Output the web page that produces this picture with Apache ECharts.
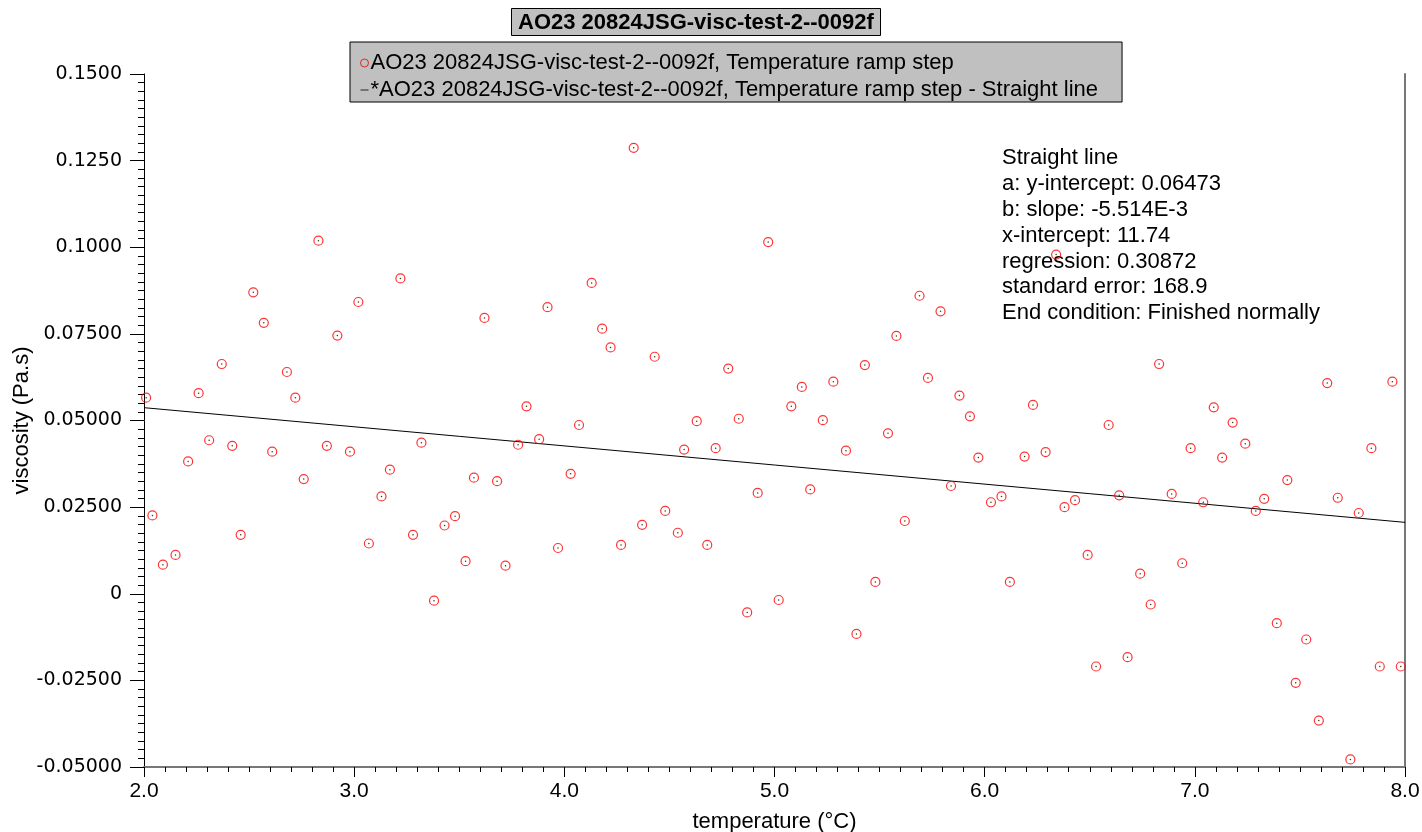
<!DOCTYPE html>
<html><head><meta charset="utf-8">
<script src="https://cdn.jsdelivr.net/npm/echarts@6/dist/echarts.min.js"></script>
<style>html,body{margin:0;padding:0;background:#fff}#c{width:1422px;height:832px}</style>
</head><body><div id="c"></div>
<script>
// temperature (°C)
const temperature = [
2.01,2.04,2.09,2.15,2.21,2.26,2.31,2.37,2.42,2.46,2.52,2.57,2.61,2.68,2.72,2.76,2.83,2.87,2.92,2.98,
3.02,3.07,3.13,3.17,3.22,3.28,3.32,3.38,3.43,3.48,3.53,3.57,3.62,3.68,3.72,3.78,3.82,3.88,3.92,3.97,
4.03,4.07,4.13,4.18,4.22,4.27,4.33,4.37,4.43,4.48,4.54,4.57,4.63,4.68,4.72,4.78,4.83,4.87,4.92,4.97,
5.02,5.08,5.13,5.17,5.23,5.28,5.34,5.39,5.43,5.48,5.54,5.58,5.62,5.69,5.73,5.79,5.84,5.88,5.93,5.97,
6.03,6.08,6.12,6.19,6.23,6.29,6.34,6.38,6.43,6.49,6.53,6.59,6.64,6.68,6.74,6.79,6.83,6.89,6.94,6.98,
7.04,7.09,7.13,7.18,7.24,7.29,7.33,7.39,7.44,7.48,7.53,7.59,7.63,7.68,7.74,7.78,7.84,7.88,7.94,7.98
];
// viscosity (Pa.s)
const viscosity = [
0.0566,0.0226,0.0084,0.0112,0.0382,0.0579,0.0443,0.0663,0.0427,0.0170,0.0870,0.0782,0.0410,0.0640,0.0566,0.0331,0.1019,0.0427,0.0745,0.0410,
0.0842,0.0145,0.0281,0.0358,0.0910,0.0170,0.0436,-0.0020,0.0197,0.0224,0.0094,0.0335,0.0796,0.0325,0.0081,0.0430,0.0541,0.0446,0.0827,0.0132,
0.0346,0.0487,0.0897,0.0765,0.0711,0.0141,0.1287,0.0199,0.0684,0.0239,0.0176,0.0416,0.0498,0.0141,0.0420,0.0650,0.0505,-0.0054,0.0291,0.1015,
-0.0018,0.0541,0.0597,0.0301,0.0501,0.0612,0.0413,-0.0116,0.0660,0.0034,0.0463,0.0744,0.0210,0.0860,0.0623,0.0815,0.0311,0.0572,0.0512,0.0393,
0.0264,0.0281,0.0034,0.0396,0.0545,0.0409,0.0979,0.0250,0.0270,0.0112,-0.0210,0.0487,0.0284,-0.0183,0.0058,-0.0031,0.0663,0.0288,0.0088,0.0420,
0.0264,0.0538,0.0393,0.0494,0.0433,0.0239,0.0274,-0.0085,0.0328,-0.0257,-0.0132,-0.0366,0.0608,0.0277,-0.0478,0.0233,0.0420,-0.0210,0.0612,-0.0210
];
// straight line fit end points
const fitX = [2.0, 8.0];
const fitY = [0.0537, 0.0206];
// y tick labels
const yTickValues = [-0.05,-0.025,0,0.025,0.05,0.075,0.1,0.125,0.15];
const yTickLabels = ['-0.05000','-0.02500','0','0.02500','0.05000','0.07500','0.1000','0.1250','0.1500'];
const titleText = 'AO23 20824JSG-visc-test-2--0092f';
const seriesNames = ['AO23 20824JSG-visc-test-2--0092f, Temperature ramp step',
                     '*AO23 20824JSG-visc-test-2--0092f, Temperature ramp step - Straight line'];
const annotation = ['Straight line','a: y-intercept: 0.06473','b: slope: -5.514E-3','x-intercept: 11.74',
                    'regression: 0.30872','standard error: 168.9','End condition: Finished normally'];

const pts = temperature.map((t,i)=>[t, viscosity[i]]);
const fitPts = fitX.map((x,i)=>[x, fitY[i]]);
const FONT = '"Liberation Sans", Arial, sans-serif';
const WIDEFONT = '"DejaVu Sans", Verdana, sans-serif';

const chart = echarts.init(document.getElementById('c'), null, {renderer:'canvas'});
chart.setOption({
  animation:false,
  backgroundColor:'#fff',
  title:{
    text:titleText, left:511, top:8,
    backgroundColor:'#c0c0c0', borderColor:'#000', borderWidth:1,
    padding:[3,7,2,7],
    textStyle:{fontFamily:FONT, fontSize:22, fontWeight:'bold', color:'#000', lineHeight:23}
  },
  legend:{
    left:350, top:42, orient:'vertical',
    backgroundColor:'#c0c0c0', borderColor:'#000', borderWidth:1,
    padding:[10,24,1,10], itemGap:5, itemWidth:8, itemHeight:8,
    textStyle:{fontFamily:FONT, fontSize:22, color:'#000', padding:[0,0,0,-3], lineHeight:22},
    data:[
      {name:seriesNames[0], icon:'circle', itemStyle:{color:'transparent', borderColor:'#e00', borderWidth:1}},
      {name:seriesNames[1], icon:'path://M0,5 L10,5 L10,6 L0,6 Z', itemStyle:{color:'#000'}}
    ]
  },
  grid:{left:144, right:17, top:74, bottom:65, containLabel:false, outerBoundsMode:'none'},
  xAxis:{
    type:'value', min:2, max:8, interval:1,
    name:'temperature (°C)', nameLocation:'middle', nameGap:44, nameMoveOverlap:false,
    nameTextStyle:{fontFamily:FONT, fontSize:22, color:'#000'},
    axisLine:{show:true, onZero:false, lineStyle:{color:'#777', width:2}},
    axisTick:{show:true, length:10, lineStyle:{color:'#000'}},
    minorTick:{show:true, splitNumber:10, length:5, lineStyle:{color:'#000'}},
    splitLine:{show:false},
    axisLabel:{fontFamily:FONT, fontSize:21, color:'#000', margin:14, formatter:v=>v.toFixed(1)}
  },
  yAxis:[{
    type:'value', min:-0.05, max:0.15, interval:0.025,
    name:'viscosity (Pa.s)', nameLocation:'middle', nameGap:111, nameRotate:90, nameMoveOverlap:false,
    nameTextStyle:{fontFamily:FONT, fontSize:22, color:'#000'},
    axisLine:{show:true, onZero:false, lineStyle:{color:'#000', width:1}},
    axisTick:{show:true, length:14, lineStyle:{color:'#000'}},
    minorTick:{show:true, splitNumber:10, length:6, lineStyle:{color:'#000'}},
    splitLine:{show:false},
    axisLabel:{fontFamily:WIDEFONT, fontSize:19, color:'#000', margin:22,
      formatter:v=>{const i=yTickValues.findIndex(t=>Math.abs(t-v)<1e-9);return i>=0?yTickLabels[i]:'';}}
  },{
    type:'value', min:-0.05, max:0.15, position:'right',
    axisLine:{show:true, onZero:false, lineStyle:{color:'#777', width:2}},
    axisTick:{show:false}, axisLabel:{show:false}, splitLine:{show:false}
  }],
  series:[
    {name:seriesNames[0], type:'scatter', data:pts, symbol:'circle', symbolSize:9,
     itemStyle:{color:'transparent', borderColor:'#f00', borderWidth:1.2}, z:3},
    {name:'dots', type:'scatter', data:pts, symbol:'circle', symbolSize:1.5,
     itemStyle:{color:'#000'}, z:4, silent:true},
    {name:seriesNames[1], type:'line', data:fitPts, symbol:'none',
     lineStyle:{color:'#000', width:1}, z:2}
  ],
  graphic:[{
    type:'text', left:1002, top:145.5,
    style:{text:annotation.join('\n'), fontFamily:FONT, fontSize:22, lineHeight:25.8, fill:'#000'}
  }]
});
</script></body></html>
